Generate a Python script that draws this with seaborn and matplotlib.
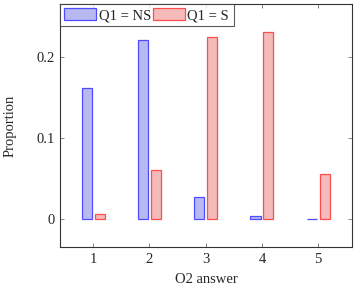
import pandas as pd
import matplotlib.pyplot as plt
import seaborn as sns

# valores
answers = [1, 2, 3, 4, 5]
prop_ns = [0.162, 0.221, 0.027, 0.004, 0.0005]
prop_s = [0.006, 0.0605, 0.224, 0.231, 0.0555]
groups = ['Q1 = NS', 'Q1 = S']

df = pd.DataFrame({
    'answer': answers * 2,
    'prop': prop_ns + prop_s,
    'group': [groups[0]] * len(answers) + [groups[1]] * len(answers),
})

sns.set_style('ticks')
plt.rcParams['font.family'] = ['Liberation Serif', 'DejaVu Serif']
plt.rcParams['font.size'] = 10.5

fig = plt.figure(figsize=(3.57, 2.85), dpi=100)
ax = fig.add_axes([0.168, 0.133, 0.818, 0.853])

fills = {'Q1 = NS': '#b0b0fa', 'Q1 = S': '#ffb0b0'}
ax = sns.barplot(data=df, x='answer', y='prop', hue='group', native_scale=True,
                 palette=fills, width=0.46, gap=0.22, ax=ax, linewidth=0.9)

edges = ['#4d4dff', '#ff4d4d']
for cont, ec in zip(ax.containers, edges):
    for bar in cont:
        bar.set_edgecolor(ec)

ax.set_xlim(0.41, 5.6)
ax.set_ylim(-0.0346, 0.265)
ax.set_xticks(answers)
ax.set_yticks([0, 0.1, 0.2])
ax.set_yticklabels(['0', '0.1', '0.2'])
ax.set_xlabel('O2 answer', labelpad=5)
ax.set_ylabel('Proportion', labelpad=14)
ax.tick_params(direction='in', top=True, right=True, length=3, width=0.5,
               color='#555555', pad=4, labelsize=10.5)
for s in ax.spines.values():
    s.set_linewidth(0.8)
    s.set_color('#333333')

leg = ax.legend(loc='upper left', ncol=2, frameon=True, fancybox=False,
                edgecolor='#333333', borderaxespad=0, handlelength=2.2,
                handleheight=0.8, handletextpad=0.15, columnspacing=0.15,
                borderpad=0.3, fontsize=10.5)
leg.get_frame().set_linewidth(0.8)
for h, ec in zip(leg.legend_handles, edges):
    h.set_edgecolor(ec)
    h.set_linewidth(0.9)

fig.savefig('out.png', dpi=100)
